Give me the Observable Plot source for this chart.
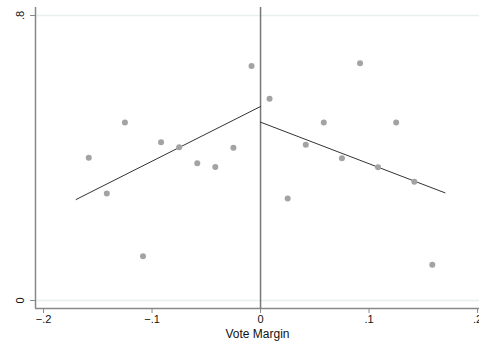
<!DOCTYPE html>
<html>
<head>
<meta charset="utf-8">
<script src="https://cdn.jsdelivr.net/npm/d3@7"></script>
<script src="https://cdn.jsdelivr.net/npm/@observablehq/plot@0.6"></script>
<style>
  html, body { margin: 0; padding: 0; background: #fff; }
  #chart { width: 479px; height: 347px; }
</style>
</head>
<body>
<div id="chart"></div>
<script>
// Binned means (left and right of cutoff)
const binLeftX  = [-0.1583, -0.1417, -0.125, -0.1083, -0.0917, -0.075, -0.0583, -0.0417, -0.025, -0.0083];
const binLeftY  = [0.401, 0.300, 0.500, 0.124, 0.444, 0.430, 0.385, 0.375, 0.429, 0.658];
const binRightX = [0.0083, 0.025, 0.0417, 0.0583, 0.075, 0.0917, 0.1083, 0.125, 0.1417, 0.1583];
const binRightY = [0.566, 0.286, 0.437, 0.500, 0.399, 0.666, 0.374, 0.500, 0.333, 0.100];

// Linear fit endpoints on each side
const fitLeftX  = [-0.170, 0];
const fitLeftY  = [0.2835, 0.5446];
const fitRightX = [0, 0.170];
const fitRightY = [0.5006, 0.3022];

// Axes
const xTicks = [-0.2, -0.1, 0, 0.1, 0.2];
const yTicks = [0, 0.8];
const xDomain = [-0.2074, 0.2018];
const yDomain = [-0.0225, 0.8225];
const xLabel = "Vote Margin";

const fmt = d => d === 0 ? "0" : d3.format(".1f")(d).replace("0.", ".");

const points = [
  ...binLeftX.map((x, i) => ({x, y: binLeftY[i]})),
  ...binRightX.map((x, i) => ({x, y: binRightY[i]}))
];
const fitL = fitLeftX.map((x, i) => ({x, y: fitLeftY[i]}));
const fitR = fitRightX.map((x, i) => ({x, y: fitRightY[i]}));

const chart = Plot.plot({
  width: 479,
  height: 347,
  marginLeft: 35,
  marginRight: 0,
  marginTop: 7,
  marginBottom: 39,
  style: { fontFamily: "'Liberation Sans', Arial, sans-serif", fontSize: "11px", background: "#fff" },
  x: { domain: xDomain },
  y: { domain: yDomain },
  marks: [
    Plot.gridY(yTicks, { stroke: "#e8efef", strokeOpacity: 1, strokeWidth: 1.5 }),
    Plot.ruleX([xDomain[0]], { stroke: "#888", strokeWidth: 1.5 }),
    Plot.ruleY([yDomain[0]], { stroke: "#888", strokeWidth: 1.5 }),
    Plot.axisX({ ticks: xTicks, tickFormat: fmt, tickSize: 5, tickPadding: 2, stroke: "#888", fill: "#111", fontSize: 11, label: null }),
    Plot.axisY({ ticks: yTicks, tickFormat: () => "", tickSize: 5, stroke: "#888", label: null }),
    Plot.text(yTicks, { x: xDomain[0], y: d => d, text: fmt, rotate: -90, dx: -15, fontSize: 11, fill: "#111", textAnchor: "middle" }),
    Plot.ruleX([0], { stroke: "#777", strokeWidth: 1.5 }),
    Plot.line(fitL, { x: "x", y: "y", stroke: "#333", strokeWidth: 1 }),
    Plot.line(fitR, { x: "x", y: "y", stroke: "#333", strokeWidth: 1 }),
    Plot.dot(points, { x: "x", y: "y", r: 3, fill: "#a3a3a3", stroke: "none" }),
    Plot.text([xLabel], { frameAnchor: "bottom", dy: 29, text: d => d, fontSize: 12, fill: "#111" })
  ]
});
document.getElementById("chart").appendChild(chart);
</script>
</body>
</html>
